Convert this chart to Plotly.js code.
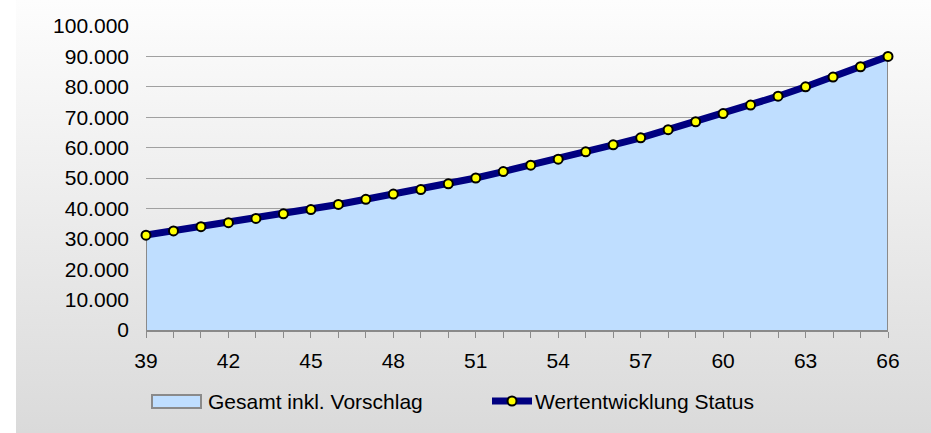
<!DOCTYPE html>
<html>
<head>
<meta charset="utf-8">
<script src="https://cdn.plot.ly/plotly-3.0.1.min.js"></script>
<style>
  html, body { margin: 0; padding: 0; background: #ffffff; }
  #bg { position: absolute; left: 16px; top: 0; width: 915px; height: 433px;
        background: linear-gradient(to bottom, #fdfdfd 0%, #dadada 100%); }
  #chart { position: absolute; left: 0; top: 0; width: 931px; height: 433px; }
</style>
</head>
<body>
<div id="bg"></div>
<div id="chart"></div>
<script>
// Alter (Jahre)
const ages = [39,40,41,42,43,44,45,46,47,48,49,50,51,52,53,54,55,56,57,58,59,60,61,62,63,64,65,66];
// Gesamt inkl. Vorschlag (Fläche)
const gesamt = [31200,32600,34000,35300,36700,38200,39600,41300,43000,44700,46200,48100,50000,52100,54200,56200,58600,60900,63200,65900,68500,71200,74000,76900,80000,83200,86600,90000];
// Wertentwicklung Status (Linie)
const status = [31200,32600,34000,35300,36700,38200,39600,41300,43000,44700,46200,48100,50000,52100,54200,56200,58600,60900,63200,65900,68500,71200,74000,76900,80000,83200,86600,90000];
const xTicks = [39,42,45,48,51,54,57,60,63,66];
const yTicks = [0,10000,20000,30000,40000,50000,60000,70000,80000,90000,100000];
const seriesNames = ['Gesamt inkl. Vorschlag', 'Wertentwicklung Status'];

// closed polygon for the area (down to zero at both ends)
const areaX = [ages[0]].concat(ages, [ages[ages.length - 1]]);
const areaY = [0].concat(gesamt, [0]);

const FONT = 'Liberation Sans, Arial, sans-serif';
const W = 931, H = 433;
const M = { l: 146, r: 43, t: 26, b: 103 };
const PW = W - M.l - M.r, PH = H - M.t - M.b;
// pixel -> paper helpers for the hand-drawn legend
const px = v => (v - M.l) / PW;
const py = v => (H - M.b - v) / PH;

const AREA_FILL = '#bfdeff', AREA_LINE = '#8a8a8a';
const NAVY = '#000080', YELLOW = '#ffff00';

const traces = [
  {
    type: 'scatter', mode: 'lines', name: seriesNames[0],
    x: areaX, y: areaY, fill: 'toself', fillcolor: AREA_FILL,
    line: { color: AREA_LINE, width: 2 }, hoverinfo: 'skip', showlegend: false
  },
  {
    type: 'scatter', mode: 'lines+markers', name: seriesNames[1],
    x: ages, y: status, cliponaxis: false,
    line: { color: NAVY, width: 7 },
    marker: { size: 9, color: YELLOW, line: { color: '#000000', width: 2 } },
    hoverinfo: 'skip', showlegend: false
  }
];

const legendY = 401;
const shapes = [
  { type: 'rect', xref: 'paper', yref: 'paper', layer: 'above',
    x0: px(152), x1: px(201), y0: py(408), y1: py(395),
    fillcolor: AREA_FILL, line: { color: AREA_LINE, width: 2 } },
  { type: 'line', xref: 'paper', yref: 'paper', layer: 'above',
    x0: px(492), x1: px(532), y0: py(legendY), y1: py(legendY),
    line: { color: NAVY, width: 7 } },
  { type: 'circle', xref: 'paper', yref: 'paper', layer: 'above',
    x0: px(507.5), x1: px(516.5), y0: py(legendY + 4.5), y1: py(legendY - 4.5),
    fillcolor: YELLOW, line: { color: '#000', width: 2 } }
];
const annotations = [
  { xref: 'paper', yref: 'paper', x: px(206), y: py(legendY), xanchor: 'left', yanchor: 'middle',
    text: seriesNames[0], showarrow: false, font: { family: FONT, size: 21, color: '#000' } },
  { xref: 'paper', yref: 'paper', x: px(533), y: py(legendY), xanchor: 'left', yanchor: 'middle',
    text: seriesNames[1], showarrow: false, font: { family: FONT, size: 21, color: '#000' } }
];

const layout = {
  width: W, height: H,
  margin: M,
  paper_bgcolor: 'rgba(0,0,0,0)', plot_bgcolor: 'rgba(0,0,0,0)',
  separators: ',.',
  font: { family: FONT, size: 21, color: '#000000' },
  showlegend: false,
  shapes: shapes,
  annotations: annotations,
  xaxis: {
    range: [39, 66], tickmode: 'array', tickvals: xTicks, ticktext: xTicks.map(String),
    showgrid: false, zeroline: false, showline: true, linecolor: AREA_LINE, linewidth: 1.5,
    ticks: 'outside', ticklen: 6, tickcolor: AREA_LINE, tickwidth: 1,
    minor: { dtick: 1, tick0: 39, ticks: 'outside', ticklen: 6, tickcolor: AREA_LINE, tickwidth: 1, showgrid: false },
    ticklabelstandoff: 5, automargin: false,
    tickfont: { family: FONT, size: 21, color: '#000' }, fixedrange: true
  },
  yaxis: {
    range: [0, 100000], tickmode: 'array', tickvals: yTicks, tickformat: ',d',
    showgrid: true, gridcolor: '#a0a0a0', gridwidth: 1, zeroline: false,
    showline: false, ticks: '', ticklabelstandoff: 16, automargin: false,
    tickfont: { family: FONT, size: 21, color: '#000' }, fixedrange: true
  }
};

Plotly.newPlot('chart', traces, layout, { staticPlot: true, displayModeBar: false });
</script>
</body>
</html>
